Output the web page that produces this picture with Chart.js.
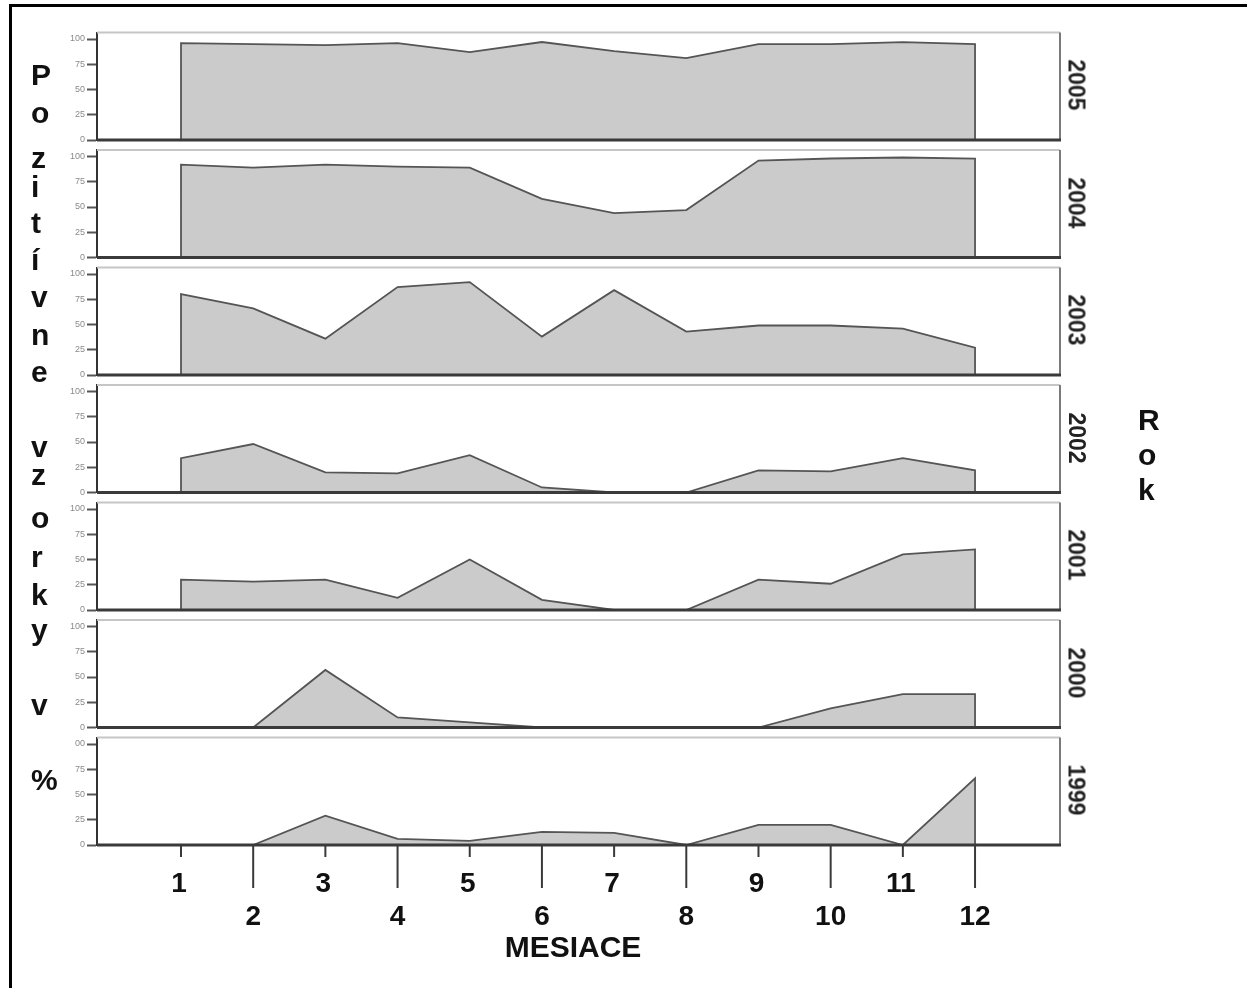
<!DOCTYPE html>
<html><head><meta charset="utf-8">
<script src="https://cdn.jsdelivr.net/npm/chart.js@4/dist/chart.umd.min.js"></script>
<style>
html,body{margin:0;padding:0;background:#fff;width:1247px;height:988px;overflow:hidden;}
#wrap{position:relative;width:1247px;height:988px;}
.frame{position:absolute;left:9px;top:4px;width:1238px;height:984px;border-top:3px solid #000;border-left:3px solid #000;box-sizing:border-box;}
canvas.panel{position:absolute;left:0;}
.lbl{position:absolute;font-family:"Liberation Sans",Arial,sans-serif;font-weight:bold;color:#111;line-height:1;white-space:nowrap;}
</style></head><body><div id="wrap"><div class="frame"></div></div>
<script>
// ---------- DATA ----------
const months = [1,2,3,4,5,6,7,8,9,10,11,12];
const monthLabels = ['1','2','3','4','5','6','7','8','9','10','11','12'];
const years = ['2005','2004','2003','2002','2001','2000','1999'];
const v2005 = [96, 95, 94, 96, 87, 97, 88, 81, 95, 95, 97, 95];
const v2004 = [92, 89, 92, 90, 89, 58, 44, 47, 96, 98, 99, 98];
const v2003 = [80, 66, 36, 87, 92, 38, 84, 43, 49, 49, 46, 27];
const v2002 = [34, 48, 20, 19, 37, 5, 0, 0, 22, 21, 34, 22];
const v2001 = [30, 28, 30, 12, 50, 10, 0, 0, 30, 26, 55, 60];
const v2000 = [0, 0, 57, 10, 5, 0, 0, 0, 0, 19, 33, 33];
const v1999 = [0, 0, 29, 6, 4, 13, 12, 0, 20, 20, 0, 66];
const yTicks = [0, 25, 50, 75, 100];
const yTickLabels = ['0', '25', '50', '75', '100'];
const yTopLabel1999 = '00';
const yAxisTitle = 'Pozitívne vzorky v %';
const xAxisTitle = 'MESIACE';
const rightTitle = 'Rok';

const seriesByYear = [v2005, v2004, v2003, v2002, v2001, v2000, v1999];

// ---------- LAYOUT / STYLE ----------
const W = 1247, H = 988;
const PLOT_LEFT = 97, PLOT_RIGHT = 1060;
const FIRST_BASE = 140, STRIDE = 117.5, PANEL_H = 107.5, PX_PER_UNIT = 1.01;
const X_MIN = -0.1637, X_MAX = 13.177;
const FONT = '"Liberation Sans", Arial, sans-serif';
const wrap = document.getElementById('wrap');

function addLabel(text, x, baseline, size, opts = {}) {
  const d = document.createElement('div');
  d.className = 'lbl';
  d.textContent = text;
  d.style.fontSize = size + 'px';
  d.style.height = size + 'px';
  const top = baseline - 0.8465 * size;
  d.style.top = top + 'px';
  d.style.left = x + 'px';
  if (opts.center) d.style.transform = 'translateX(-50%)';
  if (opts.color) d.style.color = opts.color;
  wrap.appendChild(d);
  return d;
}

const framePlugin = {
  id: 'panelFrame',
  afterDatasetsDraw(chart) {
    const { ctx, chartArea: { left, right, top, bottom } } = chart;
    ctx.save();
    ctx.lineCap = 'butt';
    ctx.strokeStyle = '#c6c6c6'; ctx.lineWidth = 2;
    ctx.beginPath(); ctx.moveTo(left, top); ctx.lineTo(right, top); ctx.stroke();
    ctx.strokeStyle = '#7a7a7a'; ctx.lineWidth = 2;
    ctx.beginPath(); ctx.moveTo(right, top); ctx.lineTo(right, bottom); ctx.stroke();
    ctx.strokeStyle = '#3a3a3a'; ctx.lineWidth = 3;
    ctx.beginPath(); ctx.moveTo(left, bottom); ctx.lineTo(right + 1, bottom); ctx.stroke();
    ctx.restore();
  }
};

const bottomAxisPlugin = {
  id: 'bottomAxis',
  afterDraw(chart) {
    const { ctx, chartArea: { bottom } } = chart;
    const xs = chart.scales.x;
    ctx.save();
    ctx.strokeStyle = '#3a3a3a'; ctx.lineWidth = 2;
    ctx.fillStyle = '#111';
    ctx.font = 'bold 28px ' + FONT;
    ctx.textAlign = 'center';
    ctx.textBaseline = 'alphabetic';
    months.forEach((m, k) => {
      const px = xs.getPixelForValue(m);
      const odd = k % 2 === 0;
      const len = odd ? 12 : 43;
      ctx.beginPath(); ctx.moveTo(px, bottom); ctx.lineTo(px, bottom + len); ctx.stroke();
      ctx.fillText(monthLabels[k], px - (odd ? 2 : 0), bottom + (odd ? 47 : 80));
    });
    ctx.restore();
  }
};

years.forEach((yr, i) => {
  const y0 = FIRST_BASE + i * STRIDE;
  const last = i === years.length - 1;
  const canvasTop = Math.floor(y0 - PANEL_H - 13);
  const canvasH = last ? (H - canvasTop) : Math.ceil(y0 + 11 - canvasTop);
  const padTop = (y0 - PANEL_H) - canvasTop;
  const padBottom = canvasTop + canvasH - y0;

  const cv = document.createElement('canvas');
  cv.className = 'panel';
  cv.width = W; cv.height = canvasH;
  cv.style.top = canvasTop + 'px';
  cv.style.width = W + 'px'; cv.style.height = canvasH + 'px';
  wrap.appendChild(cv);

  const vals = seriesByYear[i];
  const pts = [{ x: months[0], y: 0 }]
    .concat(vals.map((v, k) => ({ x: months[k], y: v })))
    .concat([{ x: months[months.length - 1], y: 0 }]);

  new Chart(cv.getContext('2d'), {
    type: 'line',
    data: {
      datasets: [{
        label: yr,
        data: pts,
        fill: 'origin',
        backgroundColor: '#cbcbcb',
        borderColor: '#555555',
        borderWidth: 1.8,
        pointRadius: 0,
        tension: 0
      }]
    },
    options: {
      responsive: false,
      animation: false,
      devicePixelRatio: 1,
      events: [],
      layout: { padding: { left: 0, right: W - PLOT_RIGHT, top: padTop, bottom: padBottom } },
      plugins: { legend: { display: false }, tooltip: { enabled: false } },
      scales: {
        x: { type: 'linear', min: X_MIN, max: X_MAX, display: false },
        y: {
          min: 0, max: PANEL_H / PX_PER_UNIT,
          afterBuildTicks: s => { s.ticks = yTicks.map(v => ({ value: v })); },
          afterFit: s => { s.width = PLOT_LEFT; },
          ticks: {
            autoSkip: false,
            padding: 2,
            color: '#8a8a8a',
            font: { size: 9, family: FONT },
            callback: (v) => {
              const k = yTicks.indexOf(v);
              if (last && v === 100) return yTopLabel1999;
              return k >= 0 ? yTickLabels[k] : '';
            }
          },
          grid: { drawOnChartArea: false, drawTicks: true, tickLength: 10, tickColor: '#555', tickWidth: 2 },
          border: { display: true, color: '#333', width: 2 }
        }
      }
    },
    plugins: last ? [framePlugin, bottomAxisPlugin] : [framePlugin]
  });

  // rotated year label
  const d = document.createElement('div');
  d.className = 'lbl';
  d.textContent = yr;
  d.style.fontSize = '23px';
  d.style.color = '#222';
  d.style.left = '1076px';
  d.style.top = (y0 - 55) + 'px';
  d.style.transform = 'translate(-50%,-50%) rotate(90deg)';
  wrap.appendChild(d);
});

// left vertical title, letter by letter
const leftBaselines = [85, 123, 168, 197, 233, 270, 307, 345, 382, 457, 485, 528, 567, 605, 640, 715, 790];
const leftChars = Array.from(yAxisTitle).filter(c => c !== ' ');
leftChars.forEach((c, k) => addLabel(c, 31, leftBaselines[k], 30));

// right title "Rok"
const rokBaselines = [430, 465, 500];
Array.from(rightTitle).forEach((c, k) => addLabel(c, 1138, rokBaselines[k], 30));

// x axis title
addLabel(xAxisTitle, 573, 957, 30, { center: true });
</script></body></html>
